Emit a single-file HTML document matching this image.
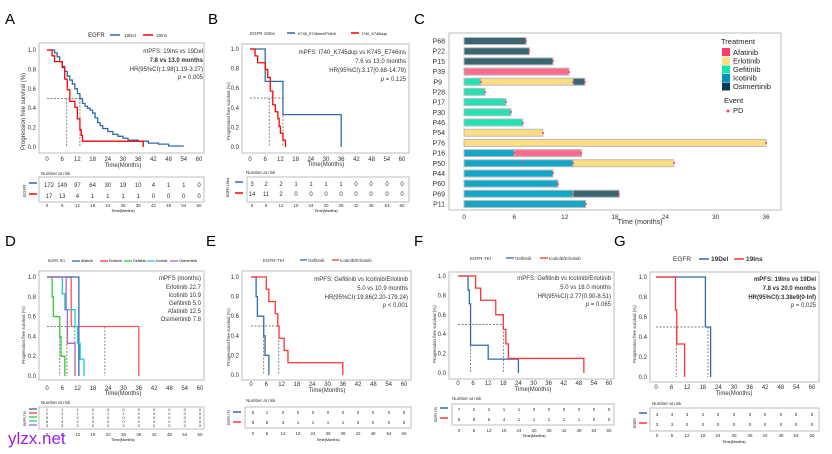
<!DOCTYPE html>
<html><head><meta charset="utf-8"><style>
body{margin:0;background:#fff}
svg{display:block;font-family:"Liberation Sans",sans-serif}
.c *{vector-effect:non-scaling-stroke;fill:none}
.c path:not(.d){stroke-width:1.3}
.d{stroke:#555;stroke-dasharray:2 1.5;stroke-width:.7}
.bx{fill:none;stroke:#c8c8c8;stroke-width:1.2}
.t{font-size:6px;fill:#333}
.s{font-size:4.5px;fill:#333}
.L{font-size:15px;fill:#000}
</style></head><body>
<svg width="832" height="454" viewBox="0 0 832 454">
<!-- ============ A ============ -->
<text class="L" x="5" y="24">A</text>
<text class="t" x="88" y="37">EGFR</text><line x1="110" y1="35" x2="120" y2="35" stroke="#2e6bb0" stroke-width="1.5"/><text class="s" x="124" y="37">19Del</text><line x1="143" y1="35" x2="153" y2="35" stroke="#f00" stroke-width="1.5"/><text class="s" x="156" y="37">19Ins</text>
<rect class="bx" x="39" y="43" width="165" height="110"/>
<g class="c" transform="translate(47,147) scale(2.533,-97)">
<path class="d" d="M0 .5H13M7.8 .5V0M13 .5V0"/>
<path stroke="#2e6bb0" d="M0 1H3V.97H4V.93H5V.88H6V.83H7V.78H8V.73H9V.69H10V.65H11V.6H12V.55H13V.5H14V.45H15V.42H16V.4H17V.38H18V.35H19V.3H20V.25H21V.22H22V.19H24V.16H26V.13H28V.11H30V.09H32V.07H36V.06H40V.04H44V.03H48V.01H54"/>
<path stroke="#f00" d="M0 1H2V.94H3V.88H6V.82H7V.7H8V.59H9V.47H11V.41H12V.29H13V.18H13.5V.12H14V.06H38V0"/>
</g>
<g class="t" text-anchor="end"><text x="36" y="52">1.0</text><text x="36" y="71.4">0.8</text><text x="36" y="90.8">0.6</text><text x="36" y="110.2">0.4</text><text x="36" y="129.6">0.2</text><text x="36" y="149">0.0</text>
<text x="203" y="53">mPFS: 19Ins vs 19Del</text><text x="203" y="62" font-weight="bold">7.8 vs 13.0 months</text><text x="203" y="71">HR(95%CI):1.98(1.19-3.27)</text><text x="203" y="79"><tspan font-style="italic">p</tspan> = 0.005</text></g>
<text class="t" transform="translate(25,150) rotate(-90)">Progression free survival (%)</text>
<text class="t" text-anchor="middle" y="161"><tspan x="47">0</tspan><tspan x="62.2">6</tspan><tspan x="77.4">12</tspan><tspan x="92.6">18</tspan><tspan x="107.8">24</tspan><tspan x="123">30</tspan><tspan x="138.2">36</tspan><tspan x="153.4">42</tspan><tspan x="168.6">48</tspan><tspan x="183.8">54</tspan><tspan x="199">60</tspan></text>
<text class="t" x="123" y="167" text-anchor="middle">Time(Months)</text>
<text class="s" x="41" y="175">Number at risk</text>
<rect class="bx" x="39" y="177" width="165" height="25"/>
<line x1="29" y1="183" x2="37" y2="183" stroke="#2e6bb0" stroke-width="1.5"/><line x1="29" y1="194" x2="37" y2="194" stroke="#f00" stroke-width="1.5"/>
<text class="s" transform="translate(26,197) rotate(-90)">EGFR</text>
<text class="t" text-anchor="middle" y="187"><tspan x="49">172</tspan><tspan x="62.2">149</tspan><tspan x="77.4">97</tspan><tspan x="92.6">64</tspan><tspan x="107.8">30</tspan><tspan x="123">19</tspan><tspan x="138.2">10</tspan><tspan x="153.4">4</tspan><tspan x="168.6">1</tspan><tspan x="183.8">1</tspan><tspan x="199">0</tspan></text>
<text class="t" text-anchor="middle" y="198"><tspan x="49">17</tspan><tspan x="62.2">13</tspan><tspan x="77.4">4</tspan><tspan x="92.6">1</tspan><tspan x="107.8">1</tspan><tspan x="123">1</tspan><tspan x="138.2">1</tspan><tspan x="153.4">0</tspan><tspan x="168.6">0</tspan><tspan x="183.8">0</tspan><tspan x="199">0</tspan></text>
<text class="s" text-anchor="middle" y="207"><tspan x="47">0</tspan><tspan x="62.2">6</tspan><tspan x="77.4">12</tspan><tspan x="92.6">18</tspan><tspan x="107.8">24</tspan><tspan x="123">30</tspan><tspan x="138.2">36</tspan><tspan x="153.4">42</tspan><tspan x="168.6">48</tspan><tspan x="183.8">54</tspan><tspan x="199">60</tspan></text>
<text x="123" y="212" text-anchor="middle" font-size="3.8">Time(Months)</text>

<!-- ============ B ============ -->
<text class="L" x="208" y="24">B</text>
<text class="s" x="250" y="35">EGFR 19Ins</text><line x1="287" y1="33" x2="295" y2="33" stroke="#2e6bb0" stroke-width="1.5"/><text x="298" y="35" font-size="3.8">K745_E746insVPVAIK</text><line x1="351" y1="33" x2="359" y2="33" stroke="#f00" stroke-width="1.5"/><text x="362" y="35" font-size="3.8">I740_K745dup</text>
<rect class="bx" x="242" y="44" width="167" height="109"/>
<g class="c" transform="translate(250,147) scale(2.533,-98)">
<path class="d" d="M0 .5H13M7.6 .5V0M13 .5V0"/>
<path stroke="#2e6bb0" d="M0 1H6V.67H13V.33H36V0"/>
<path stroke="#f00" d="M0 1H2V.93H3V.86H6V.79H7V.71H8V.57H9V.43H10V.36H11V.29H11.5V.21H12V.14H13V.07H14V0"/>
</g>
<g class="t" text-anchor="end"><text x="239" y="51">1.0</text><text x="239" y="70.6">0.8</text><text x="239" y="90.2">0.6</text><text x="239" y="109.8">0.4</text><text x="239" y="129.4">0.2</text><text x="239" y="149">0.0</text>
<text x="406" y="54">mPFS: I740_K745dup vs K745_E746ins</text><text x="406" y="63">7.6 vs 13.0 months</text><text x="406" y="72">HR(95%CI):3.17(0.68-14.79)</text><text x="406" y="81"><tspan font-style="italic">p</tspan> = 0.125</text></g>
<text class="s" transform="translate(230,140) rotate(-90)">Progression free survival (%)</text>
<text class="t" text-anchor="middle" y="161"><tspan x="250">0</tspan><tspan x="265.2">6</tspan><tspan x="280.4">12</tspan><tspan x="295.6">18</tspan><tspan x="310.8">24</tspan><tspan x="326">30</tspan><tspan x="341.2">36</tspan><tspan x="356.4">42</tspan><tspan x="371.6">48</tspan><tspan x="386.8">54</tspan><tspan x="402">60</tspan></text>
<text class="t" x="326" y="166" text-anchor="middle">Time(Months)</text>
<text class="s" x="246" y="174">Number at risk</text>
<rect class="bx" x="247" y="177" width="162" height="25"/>
<line x1="235" y1="182" x2="243" y2="182" stroke="#2e6bb0" stroke-width="1.5"/><line x1="235" y1="193" x2="243" y2="193" stroke="#f00" stroke-width="1.5"/>
<text x="0" y="0" font-size="3.5" transform="translate(229,197) rotate(-90)">EGFR 19Ins</text>
<text class="t" text-anchor="middle" y="186"><tspan x="252">3</tspan><tspan x="266">2</tspan><tspan x="281">2</tspan><tspan x="296">1</tspan><tspan x="311">1</tspan><tspan x="326">1</tspan><tspan x="341">1</tspan><tspan x="356">0</tspan><tspan x="371">0</tspan><tspan x="387">0</tspan><tspan x="402">0</tspan></text>
<text class="t" text-anchor="middle" y="196"><tspan x="252">14</tspan><tspan x="266">11</tspan><tspan x="281">2</tspan><tspan x="296">0</tspan><tspan x="311">0</tspan><tspan x="326">0</tspan><tspan x="341">0</tspan><tspan x="356">0</tspan><tspan x="371">0</tspan><tspan x="387">0</tspan><tspan x="402">0</tspan></text>
<text class="s" text-anchor="middle" y="207"><tspan x="252">0</tspan><tspan x="266">6</tspan><tspan x="281">12</tspan><tspan x="296">18</tspan><tspan x="311">24</tspan><tspan x="326">30</tspan><tspan x="341">36</tspan><tspan x="356">42</tspan><tspan x="371">48</tspan><tspan x="387">54</tspan><tspan x="402">60</tspan></text>
<text x="326" y="212" text-anchor="middle" font-size="3.8">Time(Months)</text>

<!-- ============ C ============ -->
<text class="L" x="414" y="24">C</text>
<rect class="bx" x="449" y="33" width="332" height="177"/>
<g class="c" transform="translate(464,0) scale(8.39,1)" stroke="#bbb" stroke-width="1">
<rect x="0" y="37.5" width="7.4" height="7" style="fill:#3a6672"/>
<rect x="0" y="47.7" width="7.8" height="7" style="fill:#3a6672"/>
<rect x="0" y="57.9" width="10.6" height="7" style="fill:#3a6672"/>
<rect x="0" y="68.1" width="12.5" height="7" style="fill:#ff6b8e"/>
<rect x="0" y="78.3" width="2" height="7" style="fill:#22e2b4"/><rect x="2" y="78.3" width="11" height="7" style="fill:#ffdd85"/><rect x="13" y="78.3" width="1.4" height="7" style="fill:#3a6672"/>
<rect x="0" y="88.4" width="2.5" height="7" style="fill:#22e2b4"/>
<rect x="0" y="98.6" width="5" height="7" style="fill:#22e2b4"/>
<rect x="0" y="108.8" width="5.6" height="7" style="fill:#22e2b4"/>
<rect x="0" y="119" width="7" height="7" style="fill:#22e2b4"/>
<rect x="0" y="129.2" width="9.4" height="7" style="fill:#ffdd85"/>
<rect x="0" y="139.4" width="36" height="7" style="fill:#ffdd85"/>
<rect x="0" y="149.6" width="6" height="7" style="fill:#12a6c8"/><rect x="6" y="149.6" width="8" height="7" style="fill:#ff6b8e"/>
<rect x="0" y="159.8" width="13" height="7" style="fill:#12a6c8"/><rect x="13" y="159.8" width="12" height="7" style="fill:#ffdd85"/>
<rect x="0" y="170" width="10.6" height="7" style="fill:#12a6c8"/>
<rect x="0" y="180.1" width="11.2" height="7" style="fill:#12a6c8"/>
<rect x="0" y="190.3" width="13" height="7" style="fill:#12a6c8"/><rect x="13" y="190.3" width="5.5" height="7" style="fill:#3a6672"/>
<rect x="0" y="200.5" width="14.5" height="7" style="fill:#12a6c8"/>
</g>
<g fill="#ff3a6a"><circle cx="526" cy="41" r="1"/><circle cx="529" cy="51" r="1"/><circle cx="553" cy="61" r="1"/><circle cx="569" cy="72" r="1"/><circle cx="481" cy="82" r="1"/><circle cx="573" cy="82" r="1"/><circle cx="585" cy="82" r="1"/><circle cx="485" cy="92" r="1"/><circle cx="506" cy="102" r="1"/><circle cx="511" cy="112" r="1"/><circle cx="523" cy="123" r="1"/><circle cx="543" cy="133" r="1"/><circle cx="766" cy="143" r="1"/><circle cx="514" cy="153" r="1"/><circle cx="581" cy="153" r="1"/><circle cx="523" cy="163" r="1"/><circle cx="573" cy="163" r="1"/><circle cx="674" cy="163" r="1"/><circle cx="553" cy="173" r="1"/><circle cx="558" cy="184" r="1"/><circle cx="573" cy="194" r="1"/><circle cx="619" cy="194" r="1"/><circle cx="586" cy="204" r="1"/></g>
<g class="t" text-anchor="end" style="font-size:7px"><text x="445" y="43.5">P68</text><text x="445" y="53.7">P22</text><text x="445" y="63.9">P15</text><text x="445" y="74.1">P39</text><text x="442" y="84.3">P9</text><text x="445" y="94.4">P28</text><text x="445" y="104.6">P17</text><text x="445" y="114.8">P30</text><text x="445" y="125">P46</text><text x="445" y="135.2">P54</text><text x="445" y="145.4">P76</text><text x="445" y="155.6">P16</text><text x="445" y="165.8">P50</text><text x="445" y="176">P44</text><text x="445" y="186.1">P60</text><text x="445" y="196.3">P69</text><text x="445" y="206.5">P11</text></g>
<g class="t" text-anchor="middle" style="font-size:6.5px"><text x="464" y="219">0</text><text x="514.3" y="219">6</text><text x="564.7" y="219">12</text><text x="615" y="219">18</text><text x="665.4" y="219">24</text><text x="715.7" y="219">30</text><text x="766" y="219">36</text></g>
<text class="t" x="640" y="224" text-anchor="middle" style="font-size:7px">Time (months)</text>
<g style="font-size:7.5px" fill="#222"><text x="721" y="44">Treatment</text>
<rect x="722" y="48" width="8" height="8" fill="#ff3a6a"/><text x="733" y="55">Afatinib</text>
<rect x="722" y="57" width="8" height="8" fill="#ffdd85"/><text x="733" y="63.5">Erlotinib</text>
<rect x="722" y="65.5" width="8" height="8" fill="#14e2b0"/><text x="733" y="72">Gefitinib</text>
<rect x="722" y="74" width="8" height="8" fill="#0a90b8"/><text x="733" y="80.5">Icotinib</text>
<rect x="722" y="82.5" width="8" height="8" fill="#063c50"/><text x="733" y="89">Osimertinib</text>
<text x="724" y="103">Event</text><circle cx="728" cy="111" r="1.5" fill="#ff3a6a"/><text x="733" y="113">PD</text></g>

<!-- ============ D ============ -->
<text class="L" x="5" y="246">D</text>
<g font-size="3.6"><text x="48" y="262">EGFR-TKI</text><line x1="72" y1="261" x2="80" y2="261" stroke="#2e6bb0" stroke-width="1.3"/><text x="81" y="262">Afatinib</text><line x1="100" y1="261" x2="108" y2="261" stroke="#f33" stroke-width="1.3"/><text x="109" y="262">Erlotinib</text><line x1="124" y1="261" x2="132" y2="261" stroke="#3c3" stroke-width="1.3"/><text x="133" y="262">Gefitinib</text><line x1="147" y1="261" x2="155" y2="261" stroke="#2cc" stroke-width="1.3"/><text x="156" y="262">Icotinib</text><line x1="170" y1="261" x2="178" y2="261" stroke="#a6c" stroke-width="1.3"/><text x="179" y="262">Osimertinib</text></g>
<rect class="bx" x="39" y="271" width="165" height="109"/>
<g class="c" transform="translate(47,376) scale(2.55,-99)">
<path class="d" d="M0 .5H22.7M5 .5V0M7.8 .5V0M10.9 .5V0M12.5 .5V0M22.7 .5V0"/>
<path stroke="#f55" d="M0 1H9.5V.5H36V0"/>
<path stroke="#2e6bb0" d="M0 1H12.5V0"/>
<path stroke="#2cc" d="M0 1H6V.83H7V.67H11V.5H12V.33H13V.17H14.5V0"/>
<path stroke="#3c3" d="M0 1H2V.8H2.5V.6H5V.4H5.5V.2H7V0"/>
<path stroke="#a6c" d="M0 1H7.5V.67H8V.33H11V0"/>
</g>
<g class="t" text-anchor="end"><text x="36" y="279">1.0</text><text x="36" y="298.8">0.8</text><text x="36" y="318.6">0.6</text><text x="36" y="338.4">0.4</text><text x="36" y="358.2">0.2</text><text x="36" y="378">0.0</text>
<text x="201" y="280">mPFS (months)</text><text x="201" y="289">Erlotinib   22.7</text><text x="201" y="297">Icotinib   10.9</text><text x="201" y="305">Gefitinib     5.0</text><text x="201" y="313">Afatinib   12.5</text><text x="201" y="321">Osimertinib     7.8</text></g>
<text class="s" transform="translate(25,364) rotate(-90)">Progression free survival (%)</text>
<text class="t" text-anchor="middle" y="390"><tspan x="47">0</tspan><tspan x="62.3">6</tspan><tspan x="77.6">12</tspan><tspan x="92.9">18</tspan><tspan x="108.2">24</tspan><tspan x="123.5">30</tspan><tspan x="138.8">36</tspan><tspan x="154.1">42</tspan><tspan x="169.4">48</tspan><tspan x="184.7">54</tspan><tspan x="200">60</tspan></text>
<text class="t" x="123" y="395" text-anchor="middle">Time(Months)</text>
<text class="s" x="41" y="404">Number at risk</text>
<rect class="bx" x="39" y="407" width="165" height="22"/>
<g stroke-width="1.3"><line x1="29" y1="409" x2="37" y2="409" stroke="#2e6bb0"/><line x1="29" y1="413" x2="37" y2="413" stroke="#f33"/><line x1="29" y1="417" x2="37" y2="417" stroke="#3c3"/><line x1="29" y1="421" x2="37" y2="421" stroke="#2cc"/><line x1="29" y1="425" x2="37" y2="425" stroke="#a6c"/></g>
<text x="0" y="0" font-size="3.2" transform="translate(26,426) rotate(-90)">EGFR-TKI</text>
<g font-size="4" text-anchor="middle" fill="#333"><text y="411"><tspan x="47">1</tspan><tspan x="62.3">1</tspan><tspan x="77.6">1</tspan><tspan x="92.9">0</tspan><tspan x="108.2">0</tspan><tspan x="123.5">0</tspan><tspan x="138.8">0</tspan><tspan x="154.1">0</tspan><tspan x="169.4">0</tspan><tspan x="184.7">0</tspan><tspan x="200">0</tspan></text>
<text y="415"><tspan x="47">2</tspan><tspan x="62.3">2</tspan><tspan x="77.6">1</tspan><tspan x="92.9">1</tspan><tspan x="108.2">1</tspan><tspan x="123.5">1</tspan><tspan x="138.8">0</tspan><tspan x="154.1">0</tspan><tspan x="169.4">0</tspan><tspan x="184.7">0</tspan><tspan x="200">0</tspan></text>
<text y="419"><tspan x="47">5</tspan><tspan x="62.3">1</tspan><tspan x="77.6">0</tspan><tspan x="92.9">0</tspan><tspan x="108.2">0</tspan><tspan x="123.5">0</tspan><tspan x="138.8">0</tspan><tspan x="154.1">0</tspan><tspan x="169.4">0</tspan><tspan x="184.7">0</tspan><tspan x="200">0</tspan></text>
<text y="423"><tspan x="47">6</tspan><tspan x="62.3">5</tspan><tspan x="77.6">2</tspan><tspan x="92.9">0</tspan><tspan x="108.2">0</tspan><tspan x="123.5">0</tspan><tspan x="138.8">0</tspan><tspan x="154.1">0</tspan><tspan x="169.4">0</tspan><tspan x="184.7">0</tspan><tspan x="200">0</tspan></text>
<text y="427"><tspan x="47">3</tspan><tspan x="62.3">3</tspan><tspan x="77.6">0</tspan><tspan x="92.9">0</tspan><tspan x="108.2">0</tspan><tspan x="123.5">0</tspan><tspan x="138.8">0</tspan><tspan x="154.1">0</tspan><tspan x="169.4">0</tspan><tspan x="184.7">0</tspan><tspan x="200">0</tspan></text></g>
<text class="s" text-anchor="middle" y="436"><tspan x="47">0</tspan><tspan x="62.3">6</tspan><tspan x="77.6">12</tspan><tspan x="92.9">18</tspan><tspan x="108.2">24</tspan><tspan x="123.5">30</tspan><tspan x="138.8">36</tspan><tspan x="154.1">42</tspan><tspan x="169.4">48</tspan><tspan x="184.7">54</tspan><tspan x="200">60</tspan></text>
<text x="123" y="441" text-anchor="middle" font-size="3.8">Time(Months)</text>
<text x="8" y="444" font-size="17" fill="#9b1fe8">ylzx.net</text>

<!-- ============ E ============ -->
<text class="L" x="206" y="246">E</text>
<text class="s" x="263" y="262">EGFR-TKI</text><line x1="300" y1="260" x2="307" y2="260" stroke="#2e6bb0" stroke-width="1.3"/><text class="s" x="308" y="262">Gefitinib</text><line x1="332" y1="260" x2="339" y2="260" stroke="#f33" stroke-width="1.3"/><text class="s" x="340" y="262">Icotinib/Erlotinib</text>
<rect class="bx" x="242" y="271" width="169" height="109"/>
<g class="c" transform="translate(251,375) scale(2.55,-98)">
<path class="d" d="M0 .5H10.9M5 .5V0M10.9 .5V0"/>
<path stroke="#2e6bb0" d="M0 1H2V.8H2.5V.6H5V.4H5.5V.2H7V0"/>
<path stroke="#f33" d="M0 1H6V.875H7V.75H9.5V.625H10.5V.5H11V.375H13V.25H14.5V.125H36V0"/>
</g>
<g class="t" text-anchor="end"><text x="239" y="279">1.0</text><text x="239" y="298.6">0.8</text><text x="239" y="318.2">0.6</text><text x="239" y="337.8">0.4</text><text x="239" y="357.4">0.2</text><text x="239" y="377">0.0</text>
<text x="408" y="281">mPFS: Gefitinib vs Icotinib/Erlotinib</text><text x="408" y="290">5.0 vs 10.9 months</text><text x="408" y="299">HR(95%CI):19.86(2.20-179.24)</text><text x="408" y="307"><tspan font-style="italic">p</tspan> &lt; 0.001</text></g>
<text class="s" transform="translate(230,366) rotate(-90)">Progression free survival (%)</text>
<text class="t" text-anchor="middle" y="386"><tspan x="251">0</tspan><tspan x="266.3">6</tspan><tspan x="281.6">12</tspan><tspan x="296.9">18</tspan><tspan x="312.2">24</tspan><tspan x="327.5">30</tspan><tspan x="342.8">36</tspan><tspan x="358.1">42</tspan><tspan x="373.4">48</tspan><tspan x="388.7">54</tspan><tspan x="404">60</tspan></text>
<text class="t" x="327" y="392" text-anchor="middle">Time(Months)</text>
<text class="s" x="246" y="402">Number at risk</text>
<rect class="bx" x="245" y="407" width="166" height="21"/>
<line x1="233" y1="412" x2="241" y2="412" stroke="#2e6bb0" stroke-width="1.5"/><line x1="233" y1="422" x2="241" y2="422" stroke="#f33" stroke-width="1.5"/>
<text x="0" y="0" font-size="3.2" transform="translate(230,425) rotate(-90)">EGFR-TKI</text>
<text class="s" text-anchor="middle" y="414"><tspan x="253">5</tspan><tspan x="267">1</tspan><tspan x="283">0</tspan><tspan x="298">0</tspan><tspan x="313">0</tspan><tspan x="328">0</tspan><tspan x="343">0</tspan><tspan x="358">0</tspan><tspan x="373">0</tspan><tspan x="389">0</tspan><tspan x="404">0</tspan></text>
<text class="s" text-anchor="middle" y="424"><tspan x="253">8</tspan><tspan x="267">8</tspan><tspan x="283">3</tspan><tspan x="298">1</tspan><tspan x="313">1</tspan><tspan x="328">1</tspan><tspan x="343">1</tspan><tspan x="358">0</tspan><tspan x="373">0</tspan><tspan x="389">0</tspan><tspan x="404">0</tspan></text>
<text class="s" text-anchor="middle" y="435"><tspan x="253">0</tspan><tspan x="267">6</tspan><tspan x="283">12</tspan><tspan x="298">18</tspan><tspan x="313">24</tspan><tspan x="328">30</tspan><tspan x="343">36</tspan><tspan x="358">42</tspan><tspan x="373">48</tspan><tspan x="389">54</tspan><tspan x="404">60</tspan></text>
<text x="328" y="441" text-anchor="middle" font-size="3.8">Time(Months)</text>

<!-- ============ F ============ -->
<text class="L" x="414" y="246">F</text>
<text class="s" x="470" y="260">EGFR-TKI</text><line x1="506" y1="258" x2="514" y2="258" stroke="#2e6bb0" stroke-width="1.3"/><text class="s" x="515" y="260">Gefitinib</text><line x1="540" y1="258" x2="548" y2="258" stroke="#f33" stroke-width="1.3"/><text class="s" x="549" y="260">Icotinib/Erlotinib</text>
<rect class="bx" x="449" y="272" width="165" height="107"/>
<g class="c" transform="translate(458,373) scale(2.517,-97)">
<path class="d" d="M0 .5H18M5 .5V0M18 .5V0"/>
<path stroke="#2e6bb0" d="M0 1H4V.857H4.5V.714H5V.571V.286H12V.143H24V0"/>
<path stroke="#f33" d="M0 1H7V.875H9V.75H15V.6H18V.45H19V.3H20V.15H50V0"/>
</g>
<g class="t" text-anchor="end"><text x="446" y="278">1.0</text><text x="446" y="297.4">0.8</text><text x="446" y="316.8">0.6</text><text x="446" y="336.2">0.4</text><text x="446" y="355.6">0.2</text><text x="446" y="375">0.0</text>
<text x="611" y="280">mPFS: Gefitinib vs Icotinib/Erlotinib</text><text x="611" y="289">5.0 vs 18.0 months</text><text x="611" y="298">HR(95%CI):2.77(0.90-8.51)</text><text x="611" y="306"><tspan font-style="italic">p</tspan> = 0.065</text></g>
<text class="s" transform="translate(436,363) rotate(-90)">Progression free survival (%)</text>
<text class="t" text-anchor="middle" y="385"><tspan x="458">0</tspan><tspan x="473.1">6</tspan><tspan x="488.2">12</tspan><tspan x="503.3">18</tspan><tspan x="518.4">24</tspan><tspan x="533.5">30</tspan><tspan x="548.6">36</tspan><tspan x="563.7">42</tspan><tspan x="578.8">48</tspan><tspan x="593.9">54</tspan><tspan x="609">60</tspan></text>
<text class="t" x="533" y="391" text-anchor="middle">Time(Months)</text>
<text class="s" x="452" y="400">Number at risk</text>
<rect class="bx" x="452" y="404" width="162" height="21"/>
<line x1="440" y1="408" x2="448" y2="408" stroke="#2e6bb0" stroke-width="1.5"/><line x1="440" y1="418" x2="448" y2="418" stroke="#f33" stroke-width="1.5"/>
<text x="0" y="0" font-size="3.2" transform="translate(437,422) rotate(-90)">EGFR-TKI</text>
<text class="s" text-anchor="middle" y="411"><tspan x="459">7</tspan><tspan x="474">2</tspan><tspan x="489">2</tspan><tspan x="504">1</tspan><tspan x="519">1</tspan><tspan x="534">0</tspan><tspan x="549">0</tspan><tspan x="564">0</tspan><tspan x="579">0</tspan><tspan x="594">0</tspan><tspan x="609">0</tspan></text>
<text class="s" text-anchor="middle" y="421"><tspan x="459">8</tspan><tspan x="474">8</tspan><tspan x="489">6</tspan><tspan x="504">4</tspan><tspan x="519">1</tspan><tspan x="534">1</tspan><tspan x="549">1</tspan><tspan x="564">1</tspan><tspan x="579">1</tspan><tspan x="594">0</tspan><tspan x="609">0</tspan></text>
<text class="s" text-anchor="middle" y="432"><tspan x="459">0</tspan><tspan x="474">6</tspan><tspan x="489">12</tspan><tspan x="504">18</tspan><tspan x="519">24</tspan><tspan x="534">30</tspan><tspan x="549">36</tspan><tspan x="564">42</tspan><tspan x="579">48</tspan><tspan x="594">54</tspan><tspan x="609">60</tspan></text>
<text x="534" y="437" text-anchor="middle" font-size="3.8">Time(Months)</text>

<!-- ============ G ============ -->
<text class="L" x="614" y="246">G</text>
<text class="t" x="673" y="261" style="font-size:6.5px">EGFR</text><line x1="699" y1="259" x2="709" y2="259" stroke="#2e6bb0" stroke-width="1.5"/><text class="t" x="711" y="261" style="font-size:6.5px;font-weight:bold">19Del</text><line x1="734" y1="259" x2="744" y2="259" stroke="#f33" stroke-width="1.5"/><text class="t" x="746" y="261" style="font-size:6.5px;font-weight:bold">19Ins</text>
<rect class="bx" x="650" y="272" width="169" height="110"/>
<g class="c" transform="translate(656,377) scale(2.6,-100)">
<path class="d" d="M0 .5H20M7.8 .5V0M20 .5V0"/>
<path stroke="#2e6bb0" d="M0 1H19V.5H21V0"/>
<path stroke="#f33" d="M0 1H7.5V.67H8V.33H11V0"/>
</g>
<g class="t" text-anchor="end"><text x="647" y="279">1.0</text><text x="647" y="299">0.8</text><text x="647" y="319">0.6</text><text x="647" y="339">0.4</text><text x="647" y="359">0.2</text><text x="647" y="379">0.0</text>
<g font-weight="bold"><text x="816" y="281">mPFS: 19Ins vs 19Del</text><text x="816" y="290">7.8 vs 20.0 months</text><text x="816" y="299">HR(95%CI):3.38e9(0-Inf)</text></g><text x="816" y="307"><tspan font-style="italic">p</tspan> = 0.025</text></g>
<text class="s" transform="translate(636,363) rotate(-90)">Progression free survival (%)</text>
<text class="t" text-anchor="middle" y="389"><tspan x="656">0</tspan><tspan x="671.6">6</tspan><tspan x="687.2">12</tspan><tspan x="702.8">18</tspan><tspan x="718.4">24</tspan><tspan x="734">30</tspan><tspan x="749.6">36</tspan><tspan x="765.2">42</tspan><tspan x="780.8">48</tspan><tspan x="796.4">54</tspan><tspan x="812">60</tspan></text>
<text class="t" x="734" y="395" text-anchor="middle">Time(Months)</text>
<text class="s" x="652" y="405">Number at risk</text>
<rect class="bx" x="650" y="408" width="169" height="23"/>
<line x1="639" y1="413" x2="647" y2="413" stroke="#2e6bb0" stroke-width="1.5"/><line x1="639" y1="423" x2="647" y2="423" stroke="#f33" stroke-width="1.5"/>
<text x="0" y="0" font-size="3.5" transform="translate(636,428) rotate(-90)">EGFR</text>
<text class="s" text-anchor="middle" y="416"><tspan x="657">3</tspan><tspan x="672">3</tspan><tspan x="687">3</tspan><tspan x="703">2</tspan><tspan x="718">0</tspan><tspan x="734">0</tspan><tspan x="750">0</tspan><tspan x="765">0</tspan><tspan x="781">0</tspan><tspan x="796">0</tspan><tspan x="812">0</tspan></text>
<text class="s" text-anchor="middle" y="426"><tspan x="657">3</tspan><tspan x="672">3</tspan><tspan x="687">0</tspan><tspan x="703">0</tspan><tspan x="718">0</tspan><tspan x="734">0</tspan><tspan x="750">0</tspan><tspan x="765">0</tspan><tspan x="781">0</tspan><tspan x="796">0</tspan><tspan x="812">0</tspan></text>
<text class="s" text-anchor="middle" y="437"><tspan x="657">0</tspan><tspan x="672">6</tspan><tspan x="687">12</tspan><tspan x="703">18</tspan><tspan x="718">24</tspan><tspan x="734">30</tspan><tspan x="750">36</tspan><tspan x="765">42</tspan><tspan x="781">48</tspan><tspan x="796">54</tspan><tspan x="812">60</tspan></text>
<text x="734" y="443" text-anchor="middle" font-size="3.8">Time(Months)</text>
</svg>
</body></html>
